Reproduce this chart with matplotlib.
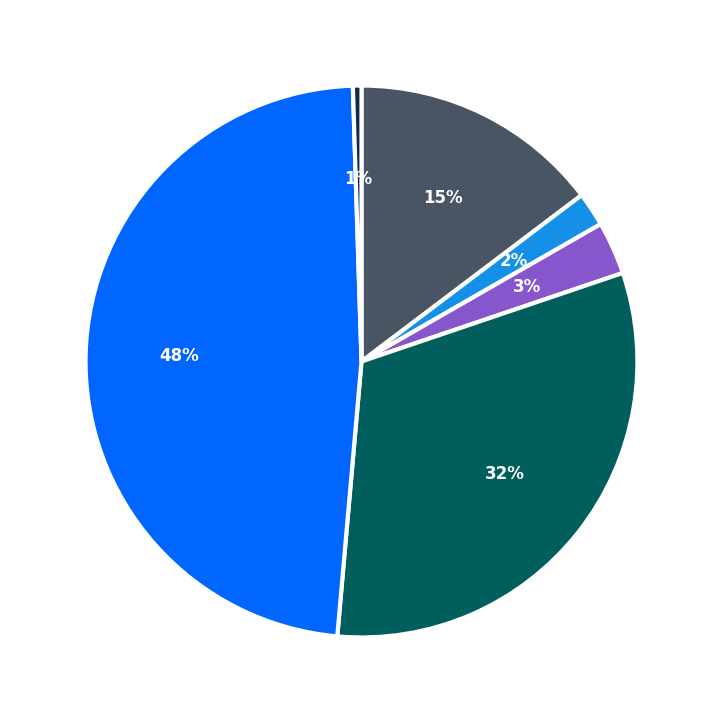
import matplotlib.pyplot as plt

values = [14.7, 2.0, 3.1, 31.6, 48.1, 0.5]
labels = ["15%", "2%", "3%", "32%", "48%", "1%"]
colors = ["#4a5563", "#1490e8", "#8755cc", "#005f5c", "#0066ff", "#0f2a4a"]

fig = plt.figure(figsize=(7.23, 7.23), dpi=100)
ax = fig.add_axes([0, 0, 1, 1])
wedges, texts = ax.pie(values, colors=colors, startangle=90, counterclock=False,
                       wedgeprops=dict(edgecolor="white", linewidth=3))
for w, lab in zip(wedges, labels):
    import numpy as np
    ang = np.deg2rad((w.theta1 + w.theta2) / 2)
    ax.text(0.66 * np.cos(ang), 0.66 * np.sin(ang), lab, ha="center", va="center",
            color="white", fontsize=12, fontweight="bold")
ax.set_xlim(-1.31, 1.31)
ax.set_ylim(-1.31, 1.31)
ax.set_aspect("equal")
fig.savefig("out.png", dpi=100)
